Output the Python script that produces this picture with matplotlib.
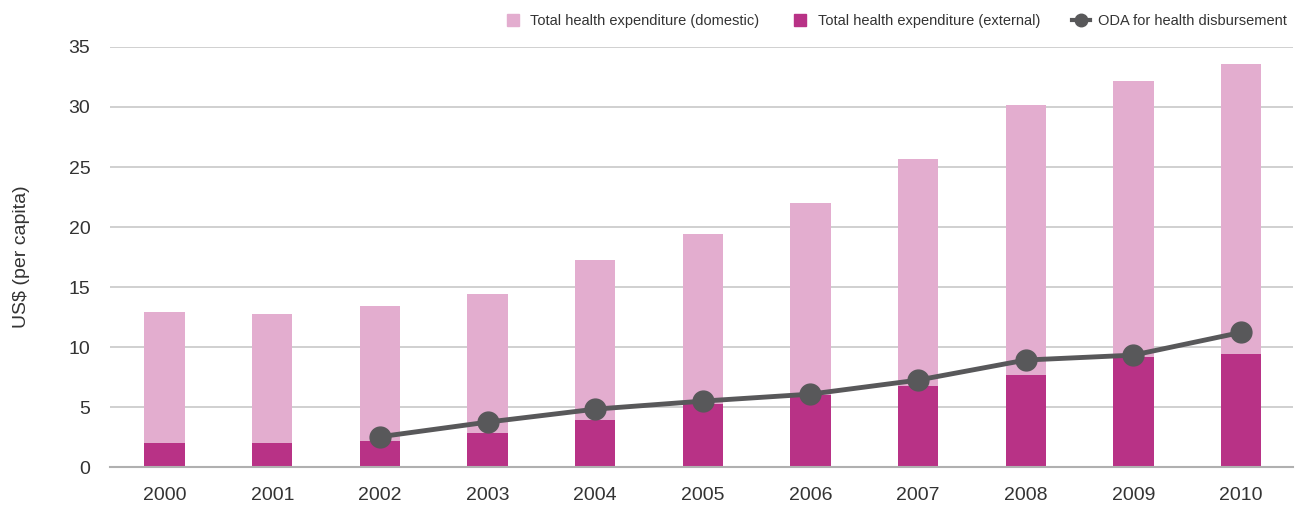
import matplotlib.pyplot as plt
from matplotlib.lines import Line2D
import numpy as np

plt.rcParams['font.family'] = ['Liberation Sans', 'DejaVu Sans']

# data
years = ['2000', '2001', '2002', '2003', '2004', '2005', '2006', '2007', '2008', '2009', '2010']
total = [12.92, 12.78, 13.42, 14.42, 17.25, 19.42, 22.0, 25.67, 30.17, 32.17, 33.58]
external = [2.03, 2.03, 2.17, 2.81, 3.94, 5.25, 6.0, 6.75, 7.67, 9.19, 9.44]
oda_years = ['2002', '2003', '2004', '2005', '2006', '2007', '2008', '2009', '2010']
oda = [2.53, 3.75, 4.83, 5.5, 6.08, 7.25, 8.92, 9.33, 11.22]

c_dom = '#E3ADCF'
c_ext = '#B83286'
c_line = '#58585A'

x = np.arange(len(years))
domestic = [t - e for t, e in zip(total, external)]
x_oda = [years.index(y) for y in oda_years]

fig = plt.figure(figsize=(13.07, 5.05), dpi=100)
ax = fig.add_axes([0.084, 0.075, 0.905, 0.832])

ax.bar(x, external, width=0.375, color=c_ext, zorder=2)
ax.bar(x, domestic, width=0.375, bottom=external, color=c_dom, zorder=2)
ax.plot(x_oda, oda, color=c_line, lw=3.5, marker='o', ms=15, zorder=3)

ax.set_xlim(-0.51, 10.48)
ax.set_ylim(0, 35)
ax.set_yticks(range(0, 36, 5))
ax.set_xticks(x)
ax.set_xticklabels(years)
ax.yaxis.grid(True, color='#c8c8c8', lw=1.2, zorder=0)
ax.set_axisbelow(True)
for s in ['top', 'right', 'left']:
    ax.spines[s].set_visible(False)
ax.spines['bottom'].set_color('#b0b0b0')
ax.spines['bottom'].set_linewidth(1.5)
ax.tick_params(length=0, labelsize=14, colors='#333333', pad=14)
ax.tick_params(axis='y', pad=14)
ax.set_ylabel('US$ (per capita)', fontsize=14, color='#333333', labelpad=28)

handles = [
    Line2D([], [], ls='none', marker='s', ms=9, color=c_dom),
    Line2D([], [], ls='none', marker='s', ms=9, color=c_ext),
    Line2D([], [], color=c_line, lw=3, marker='o', ms=9),
]
labels = ['Total health expenditure (domestic)', 'Total health expenditure (external)',
          'ODA for health disbursement']
fig.legend(handles, labels, ncol=3, frameon=False, loc='upper right',
           bbox_to_anchor=(0.995, 0.998), fontsize=10.5, handlelength=1.2,
           handletextpad=0.6, columnspacing=2.2, labelcolor='#333333')

fig.savefig('out.png', dpi=100)
